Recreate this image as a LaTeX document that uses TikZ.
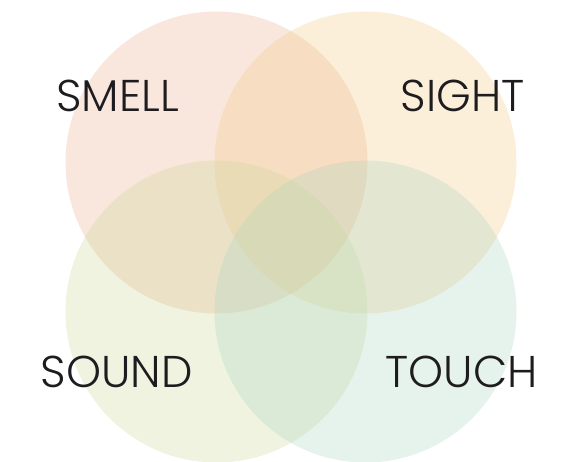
\documentclass[tikz,border=0pt]{standalone}
\definecolor{senseSmell}{RGB}{235,172,138}
\definecolor{senseSight}{RGB}{242,202,132}
\definecolor{senseSound}{RGB}{202,215,152}
\definecolor{senseTouch}{RGB}{172,215,192}
\definecolor{senseText}{RGB}{30,28,30}
\usepackage{fontspec}
\newfontfamily\senselabelfont{Poppins Light}
\usepackage{tikz}
\usetikzlibrary{positioning}

\begin{document}
\begin{tikzpicture}[
    x=1pt, y=1pt,
    sense/.style={fill opacity=0.3},
    label/.style={font=\senselabelfont\fontsize{44.5}{44.5}\selectfont, text=senseText, inner sep=0pt}
  ]
  \useasboundingbox (0,0) rectangle (576,462);
  \foreach \x/\y/\c in {216.5/299.5/senseSmell, 365.5/299.5/senseSight,
                        216.5/150.5/senseSound, 365.5/150.5/senseTouch} {
    \fill[sense, fill=\c] (\x,\y) circle (151);
  }
  \node[label] (smell) at (117.5,366) {SMELL};
  \node[label] (sight) at (462.5,366) {SIGHT};
  \node[label] (sound) at (116.5,90) {SOUND};
  \node[label] (touch) at (461.5,90) {TOUCH};
\end{tikzpicture}
\end{document}
